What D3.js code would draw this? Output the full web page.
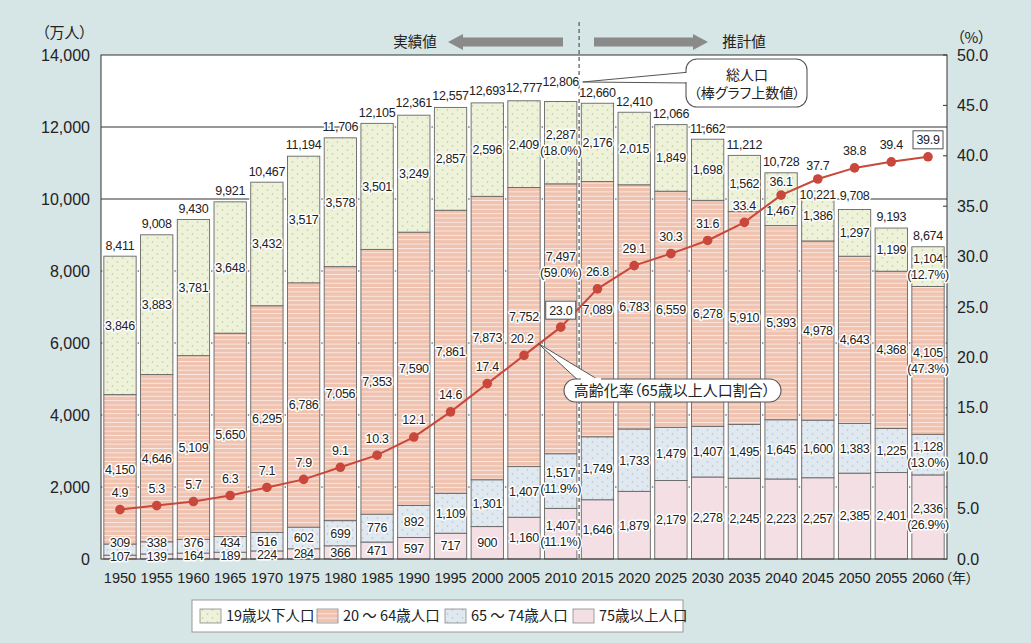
<!DOCTYPE html>
<html><head><meta charset="utf-8">
<script src="https://cdn.jsdelivr.net/npm/d3@7"></script>
<style>
body{margin:0;background:#d6e5e5;}
svg{display:block;font-family:"Liberation Sans","Noto Sans CJK JP",sans-serif;}
.jp{font-family:"Noto Sans CJK JP",sans-serif;font-feature-settings:"palt";}
</style>
</head><body><svg id="c" width="1031" height="643"></svg>
<script>
const years = [1950,1955,1960,1965,1970,1975,1980,1985,1990,1995,2000,2005,2010,2015,2020,2025,2030,2035,2040,2045,2050,2055,2060];
const totals = [8411,9008,9430,9921,10467,11194,11706,12105,12361,12557,12693,12777,12806,12660,12410,12066,11662,11212,10728,10221,9708,9193,8674];
const under19 = [3846,3883,3781,3648,3432,3517,3578,3501,3249,2857,2596,2409,2287,2176,2015,1849,1698,1562,1467,1386,1297,1199,1104];
const age20to64 = [4150,4646,5109,5650,6295,6786,7056,7353,7590,7861,7873,7752,7497,7089,6783,6559,6278,5910,5393,4978,4643,4368,4105];
const age65to74 = [309,338,376,434,516,602,699,776,892,1109,1301,1407,1517,1749,1733,1479,1407,1495,1645,1600,1383,1225,1128];
const age75plus = [107,139,164,189,224,284,366,471,597,717,900,1160,1407,1646,1879,2179,2278,2245,2223,2257,2385,2401,2336];
const agingRate = [4.9,5.3,5.7,6.3,7.1,7.9,9.1,10.3,12.1,14.6,17.4,20.2,23.0,26.8,29.1,30.3,31.6,33.4,36.1,37.7,38.8,39.4,39.9];
// shares shown in parentheses: [19歳以下, 20～64, 65～74, 75以上]
const share2010 = ["18.0%","59.0%","11.9%","11.1%"];
const share2060 = ["12.7%","47.3%","13.0%","26.9%"];
const seriesNames = ["19歳以下人口","20 ～ 64歳人口","65 ～ 74歳人口","75歳以上人口"];
const leftTicks = [0,2000,4000,6000,8000,10000,12000,14000];
const rightTicks = [0,5,10,15,20,25,30,35,40,45,50];

const svg = d3.select("#c");
const L=101,R=947,T=55,B=559;
const x = d3.scaleBand().domain(years).range([L,R]).paddingInner(0.12).paddingOuter(0.077);
const y = d3.scaleLinear().domain([0,14000]).range([B,T]);
const yr = d3.scaleLinear().domain([0,50]).range([B,T]);
const bw = x.bandwidth();
const xc = yv => x(yv)+bw/2;

// patterns
const defs = svg.append("defs");
const p1 = defs.append("pattern").attr("id","p19").attr("patternUnits","userSpaceOnUse").attr("width",10).attr("height",8);
p1.append("rect").attr("width",10).attr("height",8).attr("fill","#edf2d9");
p1.append("circle").attr("cx",2.5).attr("cy",2).attr("r",0.8).attr("fill","#b9c89d");
p1.append("circle").attr("cx",7.5).attr("cy",6).attr("r",0.8).attr("fill","#b9c89d");
const p2 = defs.append("pattern").attr("id","p2064").attr("patternUnits","userSpaceOnUse").attr("width",6).attr("height",4.35);
p2.append("rect").attr("width",6).attr("height",4.35).attr("fill","#f0c3b0");
p2.append("rect").attr("y",0).attr("width",6).attr("height",0.9).attr("fill","#fbe9e2");
const p3 = defs.append("pattern").attr("id","p6574").attr("patternUnits","userSpaceOnUse").attr("width",10).attr("height",8);
p3.append("rect").attr("width",10).attr("height",8).attr("fill","#e0e8f0");
p3.append("circle").attr("cx",2.5).attr("cy",2).attr("r",0.8).attr("fill","#b2c0d0");
p3.append("circle").attr("cx",7.5).attr("cy",6).attr("r",0.8).attr("fill","#b2c0d0");
const fills = ["url(#p19)","url(#p2064)","url(#p6574)","#f3dfe4"];

// plot background
svg.append("rect").attr("x",L).attr("y",T).attr("width",R-L).attr("height",B-T).attr("fill","#fff");
// gridlines
svg.append("g").selectAll("line").data(leftTicks.filter(d=>d>0&&d<14000)).join("line")
  .attr("x1",L).attr("x2",R).attr("y1",d=>y(d)).attr("y2",d=>y(d)).attr("stroke","#333").attr("stroke-width",1);
// right ticks
svg.append("g").selectAll("line").data(rightTicks).join("line")
  .attr("x1",R-4).attr("x2",R).attr("y1",d=>yr(d)).attr("y2",d=>yr(d)).attr("stroke","#333");

// stacked bars (bottom to top: 75+, 65-74, 20-64, under19)
const stackOrder = [age75plus, age65to74, age20to64, under19];
const fillOrder = [fills[3],fills[2],fills[1],fills[0]];
const segs = [];
years.forEach((yv,i)=>{
  let base=0;
  stackOrder.forEach((arr,k)=>{
    segs.push({year:yv,i,k,y0:base,y1:base+arr[i],v:arr[i]});
    base+=arr[i];
  });
});
const gb = svg.append("g");
gb.selectAll("rect.bg").data(years).join("rect")
  .attr("x",d=>x(d)-1.5).attr("width",bw+3).attr("y",(d,i)=>y(d3.sum(stackOrder,a=>a[i]))-1.5)
  .attr("height",(d,i)=>B-y(d3.sum(stackOrder,a=>a[i]))+1.5).attr("fill","#fff");
gb.selectAll("rect.seg").data(segs).join("rect")
  .attr("x",d=>x(d.year)).attr("width",bw)
  .attr("y",d=>y(d.y1)).attr("height",d=>y(d.y0)-y(d.y1))
  .attr("fill",d=>fillOrder[d.k]).attr("stroke","#666").attr("stroke-width",0.9);

// frame
svg.append("rect").attr("x",L).attr("y",T).attr("width",R-L).attr("height",B-T).attr("fill","none").attr("stroke","#333").attr("stroke-width",1);

// dashed divider
const xDiv = (xc(2010)+xc(2015))/2;
svg.append("line").attr("x1",xDiv).attr("x2",xDiv).attr("y1",22).attr("y2",B)
  .attr("stroke","#555").attr("stroke-width",1.2).attr("stroke-dasharray","4,3");

function halo(sel){return sel.attr("stroke","#fff").attr("stroke-width",3).attr("stroke-linejoin","round").attr("paint-order","stroke");}

// segment labels
const gl = svg.append("g").attr("font-size",12.5).attr("fill","#222").attr("text-anchor","middle").attr("letter-spacing",-0.3);
segs.forEach(s=>{
  let cy = (y(s.y0)+y(s.y1))/2;
  if(s.k===1) cy = Math.min(cy, B-16);
  if(s.k===0) cy = Math.min(cy, B-2.5);
  const shareIdx = 3-s.k;
  let share = null;
  if(s.year===2010) share = share2010[shareIdx];
  if(s.year===2060) share = share2060[shareIdx];
  // nudges to avoid the aging-rate line / labels
  if(s.year===2010 && s.k===2) cy -= 54;
  if(s.year===2005 && s.k===2) cy -= 10;
  if(s.year===2040 && s.k===3) cy += 11;
  const cx = xc(s.year);
  if(share){
    halo(gl.append("text").attr("x",cx).attr("y",cy-8).attr("dy","0.35em").text(d3.format(",")(s.v)));
    halo(gl.append("text").attr("x",cx).attr("y",cy+8).attr("dy","0.35em").text("("+share+")"));
  } else {
    halo(gl.append("text").attr("x",cx).attr("y",cy).attr("dy","0.35em").text(d3.format(",")(s.v)));
  }
});

// total labels
const gt = svg.append("g").attr("font-size",12.5).attr("fill","#222").attr("text-anchor","middle").attr("letter-spacing",-0.3);
gt.selectAll("text").data(years).join("text")
  .attr("x",d=>xc(d))
  .attr("y",(d,i)=>y(Math.max(totals[i],d3.sum(stackOrder,a=>a[i]))) + (d===2045?4:(d===2050?-14:(d===2010?-16:-11))))
  .attr("dy","0.35em")
  .text((d,i)=>d3.format(",")(totals[i])).call(halo);

// aging line
const line = d3.line().x((d,i)=>xc(years[i])).y(d=>yr(d));
svg.append("path").datum(agingRate).attr("d",line).attr("fill","none").attr("stroke","#c9473b").attr("stroke-width",2);
svg.append("g").selectAll("circle").data(agingRate).join("circle")
  .attr("cx",(d,i)=>xc(years[i])).attr("cy",d=>yr(d)).attr("r",4.8).attr("fill","#c9473b");
const boxedYears = [2010,2060];
const ga = svg.append("g").attr("font-size",12.5).attr("fill","#222").attr("text-anchor","middle").attr("letter-spacing",-0.3);
agingRate.forEach((v,i)=>{
  const cx = xc(years[i]) - (years[i]===2005?2:0);
  const cy = yr(v) - (years[i]===2040||years[i]===2045?13:17);
  if(boxedYears.includes(years[i])){
    ga.append("rect").attr("x",cx-15).attr("y",cy-9).attr("width",30).attr("height",18).attr("fill","#fff").attr("stroke","#555").attr("stroke-width",1);
  }
  halo(ga.append("text").attr("x",cx).attr("y",cy).attr("dy","0.35em").text(d3.format(".1f")(v)));
});

// axes labels
const gy = svg.append("g").attr("font-size",16).attr("fill","#222");
gy.selectAll("text.l").data(leftTicks).join("text").attr("class","l")
  .attr("x",90).attr("y",d=>y(d)).attr("dy","0.35em").attr("text-anchor","end").text(d=>d3.format(",")(d));
gy.selectAll("text.r").data(rightTicks).join("text").attr("class","r")
  .attr("x",957).attr("y",d=>yr(d)).attr("dy","0.35em").attr("text-anchor","start").text(d=>d3.format(".1f")(d));
svg.append("g").attr("font-size",14.5).attr("fill","#222").attr("text-anchor","middle")
  .selectAll("text").data(years).join("text").attr("x",d=>xc(d)).attr("y",578).attr("dy","0.35em").text(d=>d);
svg.append("text").attr("class","jp").attr("x",945).attr("y",578).attr("dy","0.35em").attr("font-size",14).attr("fill","#222").text("（年）");
svg.append("text").attr("class","jp").attr("x",42).attr("y",33).attr("dy","0.35em").attr("font-size",15).attr("fill","#222").text("（万人）");
svg.append("text").attr("class","jp").attr("x",957).attr("y",38).attr("dy","0.35em").attr("font-size",15).attr("fill","#222").text("（%）");

// top arrows
const yA = 42;
svg.append("polygon").attr("fill","#8a8a8a")
  .attr("points",[[448,yA],[463,yA-8],[463,yA-4.5],[563,yA-4.5],[563,yA+4.5],[463,yA+4.5],[463,yA+8]].join(" "));
svg.append("polygon").attr("fill","#8a8a8a")
  .attr("points",[[708,yA],[693,yA-8],[693,yA-4.5],[594,yA-4.5],[594,yA+4.5],[693,yA+4.5],[693,yA+8]].join(" "));
svg.append("text").attr("class","jp").attr("x",415).attr("y",yA).attr("dy","0.35em").attr("text-anchor","middle").attr("font-size",14.5).attr("fill","#222").text("実績値");
svg.append("text").attr("class","jp").attr("x",744).attr("y",yA).attr("dy","0.35em").attr("text-anchor","middle").attr("font-size",14.5).attr("fill","#222").text("推計値");

// callout: 総人口
const i2010 = years.indexOf(2010);
const tipX = xc(2010)+22, tipY = y(totals[i2010])-16;
svg.append("polygon").attr("points",[[tipX,tipY],[690,72],[690,83]].join(" ")).attr("fill","#fff").attr("stroke","#555");
svg.append("rect").attr("x",686).attr("y",59).attr("width",121).attr("height",48).attr("rx",11).attr("fill","#fff").attr("stroke","#555").attr("stroke-width",1.1);
svg.append("line").attr("x1",686).attr("x2",686).attr("y1",73).attr("y2",82).attr("stroke","#fff").attr("stroke-width",2.5);
svg.append("text").attr("class","jp").attr("x",747).attr("y",75).attr("dy","0.35em").attr("text-anchor","middle").attr("font-size",14).attr("fill","#222").text("総人口");
svg.append("text").attr("class","jp").attr("x",747).attr("y",93).attr("dy","0.35em").attr("text-anchor","middle").attr("font-size",14).attr("fill","#222").text("（棒グラフ上数値）");

// callout: 高齢化率
const t2x = xc(2005)+14, t2y = yr(21.4);
svg.append("polygon").attr("points",[[t2x,t2y],[580,382],[602,382]].join(" ")).attr("fill","#fff").attr("stroke","#555");
svg.append("rect").attr("x",564).attr("y",379).attr("width",217).attr("height",23).attr("rx",11.5).attr("fill","#fff").attr("stroke","#555").attr("stroke-width",1.1);
svg.append("line").attr("x1",581).attr("x2",601).attr("y1",379).attr("y2",379).attr("stroke","#fff").attr("stroke-width",2.5);
svg.append("text").attr("class","jp").attr("x",672).attr("y",390.5).attr("dy","0.35em").attr("text-anchor","middle").attr("font-size",15).attr("fill","#222").text("高齢化率（65歳以上人口割合）");

// legend
const lg = svg.append("g");
lg.append("rect").attr("x",192).attr("y",600).attr("width",491).attr("height",32).attr("fill","#fff").attr("stroke","#999");
const lx = [200,317,445,573];
seriesNames.forEach((n,k)=>{
  lg.append("rect").attr("x",lx[k]).attr("y",609).attr("width",21).attr("height",14).attr("fill",fills[k]).attr("stroke","#888").attr("stroke-width",0.8);
  lg.append("text").attr("class","jp").attr("x",lx[k]+26).attr("y",616).attr("dy","0.35em").attr("font-size",14.5).attr("fill","#222").text(n);
});
</script>
</body></html>
